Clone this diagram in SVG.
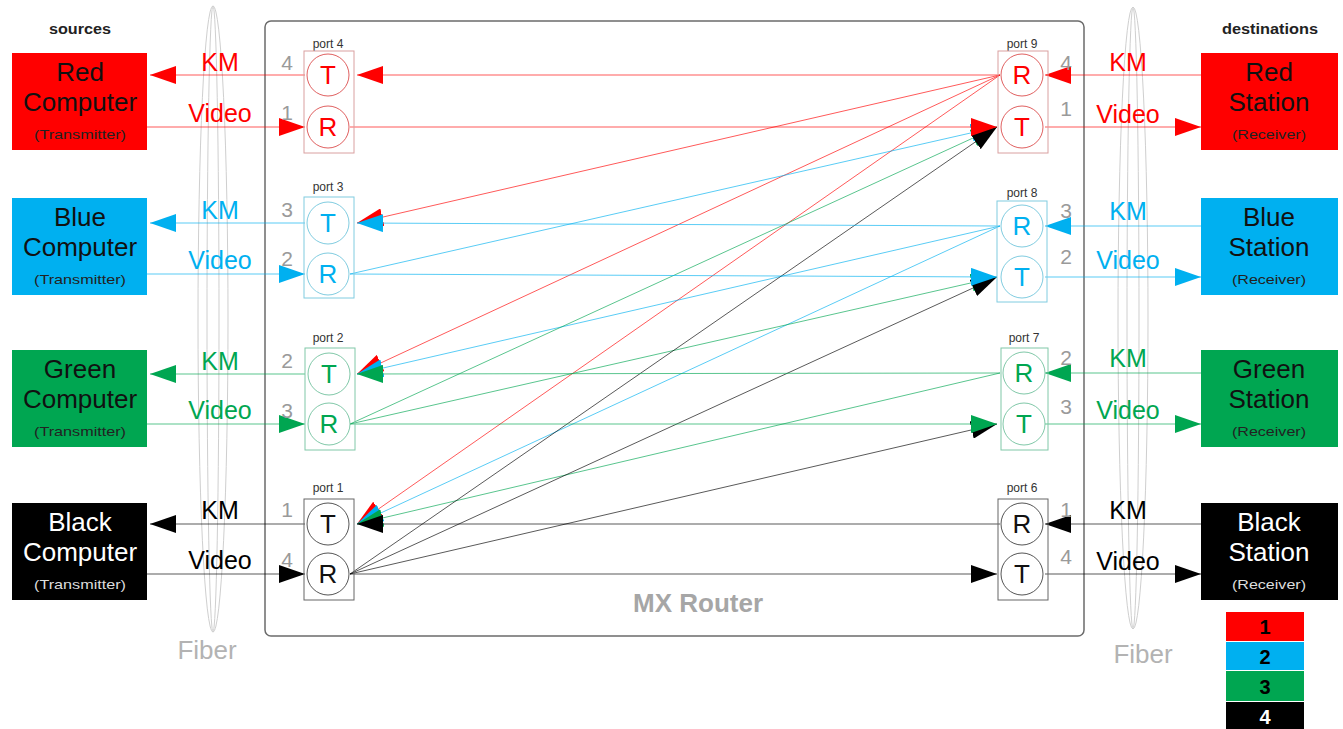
<svg xmlns="http://www.w3.org/2000/svg" width="1343" height="729" viewBox="0 0 1343 729">
<defs>
<style>
text{font-family:"Liberation Sans",Arial,sans-serif;text-anchor:middle}
.big{font-size:26px}
.small{font-size:13px}
.lbl{font-size:25px}
.num{font-size:21px;fill:#9a9a9a}
.port{font-size:12px;fill:#333}
.hdr{font-size:14px;font-weight:bold;fill:#222}
.fiber{fill:none;stroke:#cfcfcf;stroke-width:1}
.pbox{fill:none;stroke-width:1}
.circ{fill:none;stroke-width:1}
.ln{fill:none;stroke-width:1;stroke-opacity:0.65}
.leg{font-size:20px;font-weight:bold}
</style>
<marker id="aR" markerUnits="userSpaceOnUse" markerWidth="26" markerHeight="18" viewBox="0 0 26 18" refX="26" refY="9" orient="auto"><path d="M0,0 L26,9 L0,18 z" fill="#ff0000"/></marker>
<marker id="aB" markerUnits="userSpaceOnUse" markerWidth="26" markerHeight="18" viewBox="0 0 26 18" refX="26" refY="9" orient="auto"><path d="M0,0 L26,9 L0,18 z" fill="#00b0f0"/></marker>
<marker id="aG" markerUnits="userSpaceOnUse" markerWidth="26" markerHeight="18" viewBox="0 0 26 18" refX="26" refY="9" orient="auto"><path d="M0,0 L26,9 L0,18 z" fill="#00a651"/></marker>
<marker id="aK" markerUnits="userSpaceOnUse" markerWidth="26" markerHeight="18" viewBox="0 0 26 18" refX="26" refY="9" orient="auto"><path d="M0,0 L26,9 L0,18 z" fill="#000000"/></marker>
</defs>
<rect width="1343" height="729" fill="#ffffff"/>

<!-- fibers -->
<g id="fiber-left">
<ellipse class="fiber" cx="213" cy="319" rx="15" ry="313"/>
<ellipse class="fiber" cx="213" cy="319" rx="6" ry="313"/>
<text x="207" y="659" font-size="26" fill="#b3b3b3">Fiber</text>
</g>
<g id="fiber-right">
<ellipse class="fiber" cx="1133" cy="318" rx="15" ry="311"/>
<ellipse class="fiber" cx="1133" cy="318" rx="6" ry="311"/>
<text x="1143" y="663" font-size="26" fill="#b3b3b3">Fiber</text>
</g>

<!-- router -->
<g id="router">
<rect x="265" y="21" width="819" height="615" rx="6" fill="none" stroke="#6b6b6b" stroke-width="1.5"/>
<text x="698" y="612" font-size="26" font-weight="bold" fill="#a6a6a6">MX Router</text>
</g>

<text x="80" y="34" class="hdr" textLength="62" lengthAdjust="spacingAndGlyphs">sources</text>
<text x="1270" y="34" class="hdr" textLength="96" lengthAdjust="spacingAndGlyphs">destinations</text>

<!-- connectors -->
<g id="connectors">
<!-- external left -->
<line class="ln" x1="305" y1="75" x2="150" y2="75" stroke="#ff0000" marker-end="url(#aR)"/>
<line class="ln" x1="147" y1="127" x2="305" y2="127" stroke="#ff0000" marker-end="url(#aR)"/>
<line class="ln" x1="305" y1="223" x2="150" y2="223" stroke="#00b0f0" marker-end="url(#aB)"/>
<line class="ln" x1="147" y1="274" x2="305" y2="274" stroke="#00b0f0" marker-end="url(#aB)"/>
<line class="ln" x1="305" y1="374" x2="150" y2="374" stroke="#00a651" marker-end="url(#aG)"/>
<line class="ln" x1="147" y1="424" x2="305" y2="424" stroke="#00a651" marker-end="url(#aG)"/>
<line class="ln" x1="305" y1="524" x2="150" y2="524" stroke="#000" marker-end="url(#aK)"/>
<line class="ln" x1="147" y1="574" x2="305" y2="574" stroke="#000" marker-end="url(#aK)"/>
<!-- external right -->
<line class="ln" x1="1201" y1="75" x2="1045" y2="75" stroke="#ff0000" marker-end="url(#aR)"/>
<line class="ln" x1="1045" y1="127" x2="1201" y2="127" stroke="#ff0000" marker-end="url(#aR)"/>
<line class="ln" x1="1201" y1="226" x2="1045" y2="226" stroke="#00b0f0" marker-end="url(#aB)"/>
<line class="ln" x1="1045" y1="277" x2="1201" y2="277" stroke="#00b0f0" marker-end="url(#aB)"/>
<line class="ln" x1="1201" y1="373" x2="1045" y2="373" stroke="#00a651" marker-end="url(#aG)"/>
<line class="ln" x1="1045" y1="424" x2="1201" y2="424" stroke="#00a651" marker-end="url(#aG)"/>
<line class="ln" x1="1201" y1="524" x2="1045" y2="524" stroke="#000" marker-end="url(#aK)"/>
<line class="ln" x1="1045" y1="574" x2="1201" y2="574" stroke="#000" marker-end="url(#aK)"/>

<!-- internal KM: right R -> left T -->
<line class="ln" x1="1000" y1="75" x2="357" y2="223" stroke="#ff0000" marker-end="url(#aR)"/>
<line class="ln" x1="1000" y1="75" x2="357" y2="374" stroke="#ff0000" marker-end="url(#aR)"/>
<line class="ln" x1="1000" y1="75" x2="357" y2="524" stroke="#ff0000" marker-end="url(#aR)"/>
<line class="ln" x1="1000" y1="226" x2="357" y2="374" stroke="#00b0f0" marker-end="url(#aB)"/>
<line class="ln" x1="1000" y1="226" x2="357" y2="524" stroke="#00b0f0" marker-end="url(#aB)"/>
<line class="ln" x1="1000" y1="373" x2="357" y2="524" stroke="#00a651" marker-end="url(#aG)"/>

<!-- internal Video: left R -> right T -->
<line class="ln" x1="350" y1="274" x2="997" y2="127" stroke="#00b0f0" marker-end="url(#aB)"/>
<line class="ln" x1="350" y1="424" x2="997" y2="127" stroke="#00a651" marker-end="url(#aG)"/>
<line class="ln" x1="350" y1="424" x2="997" y2="277" stroke="#00a651" marker-end="url(#aG)"/>
<line class="ln" x1="350" y1="574" x2="997" y2="127" stroke="#000" marker-end="url(#aK)"/>
<line class="ln" x1="350" y1="574" x2="997" y2="277" stroke="#000" marker-end="url(#aK)"/>
<line class="ln" x1="350" y1="574" x2="997" y2="424" stroke="#000" marker-end="url(#aK)"/>

<!-- horizontals -->
<line class="ln" x1="1000" y1="75" x2="357" y2="75" stroke="#ff0000" marker-end="url(#aR)"/>
<line class="ln" x1="1000" y1="226" x2="357" y2="223" stroke="#00b0f0" marker-end="url(#aB)"/>
<line class="ln" x1="1000" y1="373" x2="357" y2="374" stroke="#00a651" marker-end="url(#aG)"/>
<line class="ln" x1="1000" y1="524" x2="357" y2="524" stroke="#000" marker-end="url(#aK)"/>
<line class="ln" x1="350" y1="127" x2="997" y2="127" stroke="#ff0000" marker-end="url(#aR)"/>
<line class="ln" x1="350" y1="274" x2="997" y2="277" stroke="#00b0f0" marker-end="url(#aB)"/>
<line class="ln" x1="350" y1="424" x2="997" y2="424" stroke="#00a651" marker-end="url(#aG)"/>
<line class="ln" x1="350" y1="574" x2="997" y2="574" stroke="#000" marker-end="url(#aK)"/>
</g>

<!-- link labels -->
<g id="labels">
<text x="220" y="71" class="lbl" fill="#ff0000">KM</text>
<text x="220" y="122" class="lbl" fill="#ff0000">Video</text>
<text x="287" y="70" class="num">4</text>
<text x="287" y="120" class="num">1</text>
<text x="220" y="219" class="lbl" fill="#00b0f0">KM</text>
<text x="220" y="269" class="lbl" fill="#00b0f0">Video</text>
<text x="287" y="217" class="num">3</text>
<text x="287" y="266" class="num">2</text>
<text x="220" y="370" class="lbl" fill="#00a651">KM</text>
<text x="220" y="419" class="lbl" fill="#00a651">Video</text>
<text x="287" y="368" class="num">2</text>
<text x="287" y="418" class="num">3</text>
<text x="220" y="519" class="lbl" fill="#000">KM</text>
<text x="220" y="569" class="lbl" fill="#000">Video</text>
<text x="287" y="517" class="num">1</text>
<text x="287" y="567" class="num">4</text>

<text x="1128" y="71" class="lbl" fill="#ff0000">KM</text>
<text x="1128" y="123" class="lbl" fill="#ff0000">Video</text>
<text x="1066" y="70" class="num">4</text>
<text x="1066" y="116" class="num">1</text>
<text x="1128" y="220" class="lbl" fill="#00b0f0">KM</text>
<text x="1128" y="269" class="lbl" fill="#00b0f0">Video</text>
<text x="1066" y="218" class="num">3</text>
<text x="1066" y="264" class="num">2</text>
<text x="1128" y="367" class="lbl" fill="#00a651">KM</text>
<text x="1128" y="419" class="lbl" fill="#00a651">Video</text>
<text x="1066" y="365" class="num">2</text>
<text x="1066" y="414" class="num">3</text>
<text x="1128" y="519" class="lbl" fill="#000">KM</text>
<text x="1128" y="570" class="lbl" fill="#000">Video</text>
<text x="1066" y="517" class="num">1</text>
<text x="1066" y="564" class="num">4</text>
</g>

<!-- source boxes -->
<g id="red-computer">
<rect x="12" y="53" width="135" height="97" fill="#ff0000"/>
<text x="80" y="81" class="big" fill="#111">Red</text>
<text x="80" y="111" class="big" fill="#111">Computer</text>
<text x="80" y="139" class="small" fill="#222" textLength="92" lengthAdjust="spacingAndGlyphs">(Transmitter)</text>
</g>
<g id="blue-computer">
<rect x="12" y="198" width="135" height="97" fill="#00b0f0"/>
<text x="80" y="226" class="big" fill="#111">Blue</text>
<text x="80" y="256" class="big" fill="#111">Computer</text>
<text x="80" y="284" class="small" fill="#222" textLength="92" lengthAdjust="spacingAndGlyphs">(Transmitter)</text>
</g>
<g id="green-computer">
<rect x="12" y="350" width="135" height="97" fill="#00a651"/>
<text x="80" y="378" class="big" fill="#111">Green</text>
<text x="80" y="408" class="big" fill="#111">Computer</text>
<text x="80" y="436" class="small" fill="#222" textLength="92" lengthAdjust="spacingAndGlyphs">(Transmitter)</text>
</g>
<g id="black-computer">
<rect x="12" y="503" width="135" height="97" fill="#000"/>
<text x="80" y="531" class="big" fill="#fff">Black</text>
<text x="80" y="561" class="big" fill="#fff">Computer</text>
<text x="80" y="589" class="small" fill="#ddd" textLength="92" lengthAdjust="spacingAndGlyphs">(Transmitter)</text>
</g>

<!-- destination boxes -->
<g id="red-station">
<rect x="1201" y="53" width="137" height="97" fill="#ff0000"/>
<text x="1269" y="81" class="big" fill="#111">Red</text>
<text x="1269" y="111" class="big" fill="#111">Station</text>
<text x="1269" y="139" class="small" fill="#222" textLength="74" lengthAdjust="spacingAndGlyphs">(Receiver)</text>
</g>
<g id="blue-station">
<rect x="1201" y="198" width="137" height="97" fill="#00b0f0"/>
<text x="1269" y="226" class="big" fill="#111">Blue</text>
<text x="1269" y="256" class="big" fill="#111">Station</text>
<text x="1269" y="284" class="small" fill="#222" textLength="74" lengthAdjust="spacingAndGlyphs">(Receiver)</text>
</g>
<g id="green-station">
<rect x="1201" y="350" width="137" height="97" fill="#00a651"/>
<text x="1269" y="378" class="big" fill="#111">Green</text>
<text x="1269" y="408" class="big" fill="#111">Station</text>
<text x="1269" y="436" class="small" fill="#222" textLength="74" lengthAdjust="spacingAndGlyphs">(Receiver)</text>
</g>
<g id="black-station">
<rect x="1201" y="503" width="137" height="97" fill="#000"/>
<text x="1269" y="531" class="big" fill="#fff">Black</text>
<text x="1269" y="561" class="big" fill="#fff">Station</text>
<text x="1269" y="589" class="small" fill="#ddd" textLength="74" lengthAdjust="spacingAndGlyphs">(Receiver)</text>
</g>

<!-- left ports -->
<g id="port4">
<text x="328" y="48" class="port">port 4</text>
<rect class="pbox" x="304" y="51" width="50" height="102" stroke="#d9a0a0"/>
<circle class="circ" cx="328" cy="75" r="21" stroke="#e06060"/>
<circle class="circ" cx="328" cy="127" r="21" stroke="#e06060"/>
<text x="328" y="84" class="big" fill="#ff0000" font-size="25">T</text>
<text x="328" y="136" class="big" fill="#ff0000" font-size="25">R</text>
</g>
<g id="port3">
<text x="328" y="191" class="port">port 3</text>
<rect class="pbox" x="304" y="197" width="50" height="101" stroke="#80cce0"/>
<circle class="circ" cx="328" cy="223" r="21" stroke="#80cce0"/>
<circle class="circ" cx="328" cy="274" r="21" stroke="#80cce0"/>
<text x="328" y="232" class="big" fill="#00b0f0">T</text>
<text x="328" y="283" class="big" fill="#00b0f0">R</text>
</g>
<g id="port2">
<text x="328" y="342" class="port">port 2</text>
<rect class="pbox" x="305" y="348" width="50" height="102" stroke="#80c8a8"/>
<circle class="circ" cx="329" cy="374" r="21" stroke="#80c8a8"/>
<circle class="circ" cx="329" cy="424" r="21" stroke="#80c8a8"/>
<text x="329" y="383" class="big" fill="#00a651">T</text>
<text x="329" y="433" class="big" fill="#00a651">R</text>
</g>
<g id="port1">
<text x="328" y="492" class="port">port 1</text>
<rect class="pbox" x="304" y="499" width="50" height="101" stroke="#666"/>
<circle class="circ" cx="328" cy="524" r="21" stroke="#555"/>
<circle class="circ" cx="328" cy="574" r="21" stroke="#555"/>
<text x="328" y="533" class="big" fill="#111">T</text>
<text x="328" y="583" class="big" fill="#111">R</text>
</g>

<!-- right ports -->
<g id="port9">
<text x="1022" y="48" class="port">port 9</text>
<rect class="pbox" x="998" y="51" width="50" height="102" stroke="#d9a0a0"/>
<circle class="circ" cx="1022" cy="75" r="21" stroke="#e06060"/>
<circle class="circ" cx="1022" cy="127" r="21" stroke="#e06060"/>
<text x="1022" y="84" class="big" fill="#ff0000">R</text>
<text x="1022" y="136" class="big" fill="#ff0000">T</text>
</g>
<g id="port8">
<text x="1022" y="197" class="port">port 8</text>
<rect class="pbox" x="997" y="201" width="50" height="101" stroke="#80cce0"/>
<circle class="circ" cx="1022" cy="226" r="21" stroke="#80cce0"/>
<circle class="circ" cx="1022" cy="277" r="21" stroke="#80cce0"/>
<text x="1022" y="235" class="big" fill="#00b0f0">R</text>
<text x="1022" y="286" class="big" fill="#00b0f0">T</text>
</g>
<g id="port7">
<text x="1024" y="342" class="port">port 7</text>
<rect class="pbox" x="1001" y="348" width="47" height="102" stroke="#80c8a8"/>
<circle class="circ" cx="1024" cy="373" r="21" stroke="#80c8a8"/>
<circle class="circ" cx="1024" cy="424" r="21" stroke="#80c8a8"/>
<text x="1024" y="382" class="big" fill="#00a651">R</text>
<text x="1024" y="433" class="big" fill="#00a651">T</text>
</g>
<g id="port6">
<text x="1022" y="492" class="port">port 6</text>
<rect class="pbox" x="998" y="499" width="50" height="101" stroke="#666"/>
<circle class="circ" cx="1022" cy="524" r="21" stroke="#555"/>
<circle class="circ" cx="1022" cy="574" r="21" stroke="#555"/>
<text x="1022" y="533" class="big" fill="#111">R</text>
<text x="1022" y="583" class="big" fill="#111">T</text>
</g>

<!-- legend -->
<g id="legend">
<rect x="1226" y="612" width="78" height="29" fill="#ff0000"/>
<rect x="1226" y="642" width="78" height="28" fill="#00b0f0"/>
<rect x="1226" y="671" width="78" height="30" fill="#00a651"/>
<rect x="1226" y="702" width="78" height="27" fill="#000"/>
<text x="1265" y="634" class="leg" fill="#000">1</text>
<text x="1265" y="664" class="leg" fill="#000">2</text>
<text x="1265" y="694" class="leg" fill="#000">3</text>
<text x="1265" y="724" class="leg" fill="#fff">4</text>
</g>
</svg>
